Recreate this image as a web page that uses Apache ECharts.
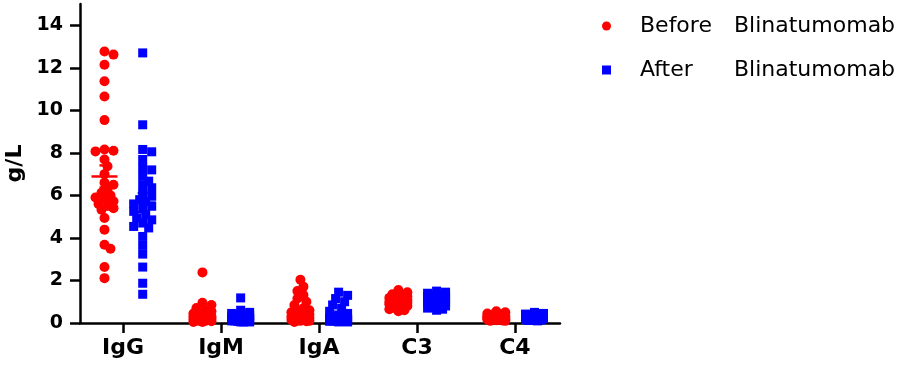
<!DOCTYPE html>
<html>
<head>
<meta charset="utf-8">
<script src="https://cdn.jsdelivr.net/npm/echarts@6/dist/echarts.min.js"></script>
<style>
  html, body { margin: 0; padding: 0; background: #fff; }
  #chart { width: 905px; height: 371px; }
</style>
</head>
<body>
<div id="chart"></div>
<script>
  // categories and values (g/L)
  var categories = ['IgG', 'IgM', 'IgA', 'C3', 'C4'];
  var yTicks = [0, 2, 4, 6, 8, 10, 12, 14];

  var igGBefore = [12.77, 12.62, 12.14, 11.37, 10.65, 9.54, 8.16, 8.07, 8.1, 7.69, 7.37, 7.0, 6.6, 6.5, 6.3, 6.12, 6.0, 5.9, 5.85, 5.72, 5.6, 5.5, 5.4, 5.33, 4.94, 4.39, 3.68, 3.49, 2.63, 2.11];
  var igMBefore = [2.38, 0.95, 0.85, 0.7, 0.6, 0.55, 0.5, 0.45, 0.4, 0.38, 0.35, 0.3, 0.3, 0.28, 0.25, 0.22, 0.2, 0.2, 0.18, 0.15, 0.15, 0.12, 0.1, 0.1, 0.08, 0.05, 0.05, 0.3, 0.4, 0.25];
  var igABefore = [2.03, 1.71, 1.5, 1.32, 1.15, 1.0, 0.85, 0.69, 0.6, 0.5, 0.45, 0.4, 0.35, 0.3, 0.3, 0.25, 0.2, 0.2, 0.18, 0.15, 0.12, 0.1, 0.1, 0.08, 0.05, 0.4, 0.25, 0.15, 0.5, 0.35];
  var c3Before = [1.55, 1.45, 1.35, 1.3, 1.25, 1.2, 1.15, 1.12, 1.1, 1.05, 1.02, 1.0, 0.98, 0.95, 0.92, 0.9, 0.88, 0.85, 0.82, 0.8, 0.75, 0.7, 0.65, 0.6, 0.55, 1.08, 1.18, 0.97, 0.93, 1.0];
  var c4Before = [0.55, 0.5, 0.45, 0.42, 0.4, 0.38, 0.35, 0.33, 0.3, 0.3, 0.28, 0.27, 0.25, 0.25, 0.23, 0.22, 0.2, 0.2, 0.18, 0.17, 0.15, 0.15, 0.13, 0.12, 0.1, 0.1, 0.32, 0.36, 0.24, 0.19];

  var igGAfter = [12.7, 9.32, 8.16, 8.05, 7.69, 7.3, 7.2, 6.9, 6.67, 6.5, 6.36, 6.1, 5.96, 5.8, 5.72, 5.6, 5.49, 5.4, 5.25, 5.1, 4.94, 4.85, 4.7, 4.54, 4.47, 4.07, 3.65, 3.24, 2.63, 1.87, 1.35];
  var igMAfter = [1.18, 0.6, 0.5, 0.45, 0.4, 0.35, 0.3, 0.3, 0.25, 0.25, 0.2, 0.2, 0.2, 0.15, 0.15, 0.15, 0.1, 0.1, 0.1, 0.1, 0.08, 0.05, 0.05, 0.05, 0.12, 0.18, 0.22, 0.3, 0.4, 0.28];
  var igAAfter = [1.45, 1.3, 1.15, 1.0, 0.85, 0.7, 0.55, 0.45, 0.38, 0.32, 0.28, 0.25, 0.2, 0.2, 0.18, 0.15, 0.12, 0.1, 0.1, 0.08, 0.05, 0.05, 0.15, 0.22, 0.3, 0.12, 0.08, 0.25, 0.18, 0.1];
  var c3After = [1.5, 1.45, 1.4, 1.35, 1.3, 1.28, 1.25, 1.2, 1.18, 1.15, 1.12, 1.1, 1.08, 1.05, 1.02, 1.0, 0.98, 0.95, 0.92, 0.9, 0.88, 0.85, 0.8, 0.75, 0.7, 0.65, 0.6, 1.22, 1.1, 0.95];
  var c4After = [0.5, 0.45, 0.42, 0.4, 0.38, 0.35, 0.33, 0.32, 0.3, 0.3, 0.28, 0.27, 0.26, 0.25, 0.25, 0.23, 0.22, 0.2, 0.2, 0.18, 0.17, 0.15, 0.14, 0.12, 0.1, 0.3, 0.35, 0.28, 0.22, 0.24];

  // mean and SEM per category
  var meanBefore = [6.89, 0.4, 0.53, 1.0, 0.27];
  var semBefore = [0.52, 0.09, 0.1, 0.05, 0.02];
  var meanAfter = [5.66, 0.28, 0.37, 1.05, 0.27];
  var semAfter = [0.45, 0.05, 0.07, 0.05, 0.02];

  var beforeGroups = [igGBefore, igMBefore, igABefore, c3Before, c4Before];
  var afterGroups = [igGAfter, igMAfter, igAAfter, c3After, c4After];

  var xMin = -0.44, xMax = 4.46, yMax = 15;
  var gridL = 80, gridR = 345, gridT = 4, gridB = 48;
  var pxPerX = (905 - gridL - gridR) / (xMax - xMin);
  var pxPerY = (371 - gridT - gridB) / yMax;

  // spread points sideways like a dot plot, within +-maxOff px of the column
  function swarm(values, center, dist, maxOff) {
    var placed = [];
    var order = values.map(function (v, i) { return i; });
    order.sort(function (a, b) { return values[b] - values[a]; });
    var out = [];
    order.forEach(function (i) {
      var py = values[i] * pxPerY;
      var best = 0, bestGap = -1;
      for (var k = 0; k <= 2 * Math.floor(maxOff / 3); k++) {
        var cand = (k === 0) ? 0 : (k % 2 ? 1 : -1) * Math.ceil(k / 2) * 3;
        var gap = Infinity;
        placed.forEach(function (p) {
          var dx = p[0] - cand, dy = p[1] - py;
          gap = Math.min(gap, Math.sqrt(dx * dx + dy * dy));
        });
        if (gap >= dist) { best = cand; bestGap = gap; break; }
        if (gap > bestGap) { bestGap = gap; best = cand; }
      }
      placed.push([best, py]);
      out.push([center + best / pxPerX, values[i]]);
    });
    return out;
  }

  var beforeData = [], afterData = [];
  beforeGroups.forEach(function (g, i) { beforeData = beforeData.concat(swarm(g, i - 0.19, 7, 9)); });
  afterGroups.forEach(function (g, i) { afterData = afterData.concat(swarm(g, i + 0.2, 7, 9)); });

  var barsBefore = meanBefore.map(function (m, i) { return [i - 0.19, m, semBefore[i]]; });
  var barsAfter = meanAfter.map(function (m, i) { return [i + 0.2, m, semAfter[i]]; });

  function errorBar(color) {
    return function (params, api) {
      var x = api.value(0), m = api.value(1), s = api.value(2);
      var c = api.coord([x, m]);
      var t = api.coord([x, m + s]);
      var b = api.coord([x, m - s]);
      var st = { stroke: color, lineWidth: 2.5 };
      return {
        type: 'group',
        children: [
          { type: 'line', shape: { x1: c[0] - 13, y1: c[1], x2: c[0] + 13, y2: c[1] }, style: st },
          { type: 'line', shape: { x1: t[0], y1: t[1], x2: b[0], y2: b[1] }, style: st },
          { type: 'line', shape: { x1: t[0] - 5, y1: t[1], x2: t[0] + 5, y2: t[1] }, style: st },
          { type: 'line', shape: { x1: b[0] - 5, y1: b[1], x2: b[0] + 5, y2: b[1] }, style: st }
        ]
      };
    };
  }

  var font = 'DejaVu Sans';
  var myChart = echarts.init(document.getElementById('chart'));
  var option = {
    animation: false,
    grid: { left: gridL, right: gridR, top: gridT, bottom: gridB, containLabel: false, outerBoundsMode: 'none' },
    legend: {
      orient: 'vertical',
      left: 597,
      top: 10,
      itemWidth: 9,
      itemHeight: 9,
      itemGap: 22,
      data: [
        { name: 'Before Blinatumomab', icon: 'circle' },
        { name: 'After Blinatumomab', icon: 'rect' }
      ],
      formatter: function (name) {
        var parts = name.split(' ');
        return '{a|' + parts[0] + '}{b|' + parts[1] + '}';
      },
      textStyle: {
        fontFamily: font,
        fontSize: 22,
        color: '#000',
        rich: {
          a: { fontFamily: font, fontSize: 22, width: 94, padding: [0, 0, 0, 24], lineHeight: 28 },
          b: { fontFamily: font, fontSize: 22, lineHeight: 28 }
        }
      }
    },
    xAxis: {
      type: 'value',
      min: xMin,
      max: xMax,
      splitLine: { show: false },
      axisLine: { onZero: false, lineStyle: { color: '#000', width: 2.5 } },
      axisTick: { customValues: [0, 1, 2, 3, 4], length: 10, lineStyle: { color: '#000', width: 2.5 } },
      axisLabel: {
        customValues: [0, 1, 2, 3, 4],
        formatter: function (v) { return categories[Math.round(v)]; },
        margin: 14,
        fontFamily: font,
        fontWeight: 'bold',
        fontSize: 22,
        color: '#000'
      }
    },
    yAxis: {
      type: 'value',
      min: 0,
      max: yMax,
      interval: 2,
      name: 'g/L',
      nameLocation: 'middle',
      nameGap: 54,
      nameMoveOverlap: false,
      nameTextStyle: { fontFamily: font, fontWeight: 'bold', fontSize: 22, color: '#000' },
      splitLine: { show: false },
      axisLine: { show: true, onZero: false, lineStyle: { color: '#000', width: 2.5 } },
      axisTick: { show: true, customValues: yTicks, length: 10, lineStyle: { color: '#000', width: 2.5 } },
      axisLabel: {
        customValues: yTicks,
        margin: 17,
        fontFamily: font,
        fontWeight: 'bold',
        fontSize: 19,
        color: '#000'
      }
    },
    series: [
      {
        name: 'Before Blinatumomab',
        type: 'scatter',
        symbol: 'circle',
        symbolSize: 10,
        itemStyle: { color: '#ff0000', opacity: 1 },
        data: beforeData
      },
      {
        name: 'After Blinatumomab',
        type: 'scatter',
        symbol: 'rect',
        symbolSize: 9,
        itemStyle: { color: '#0000ff', opacity: 1 },
        data: afterData
      },
      {
        type: 'custom',
        renderItem: errorBar('#ff0000'),
        z: 5,
        data: barsBefore
      },
      {
        type: 'custom',
        renderItem: errorBar('#0000ff'),
        z: 5,
        data: barsAfter
      }
    ]
  };
  myChart.setOption(option);
</script>
</body>
</html>
